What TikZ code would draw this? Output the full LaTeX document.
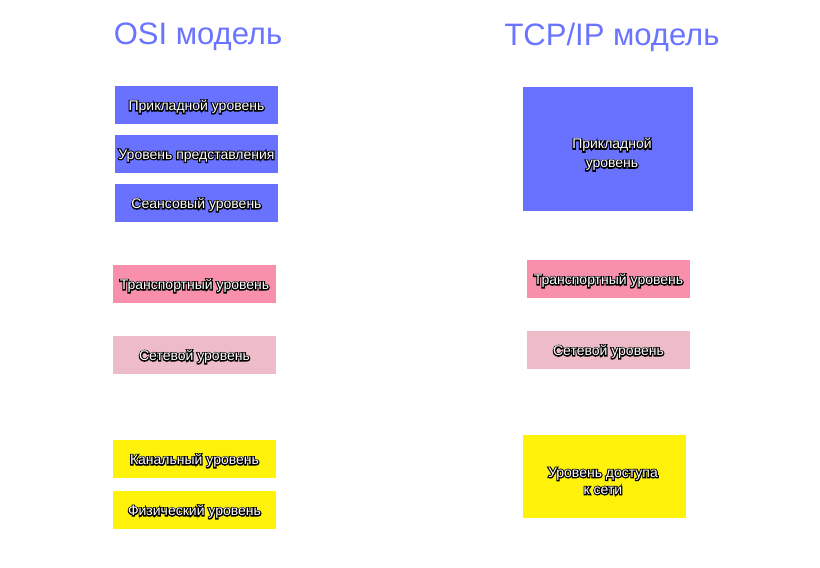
\documentclass[tikz,border=0pt]{standalone}
\usepackage{fontspec}
\setmainfont{Liberation Sans}
\definecolor{osiblue}{HTML}{6872FF}
\definecolor{titleblue}{HTML}{6A74FF}
\definecolor{transpink}{HTML}{F890AB}
\definecolor{netpink}{HTML}{EEBBC9}
\definecolor{linkyellow}{HTML}{FFF20A}
\tikzset{
  layerbox/.style={rectangle, inner sep=0pt, draw=none, text=white, align=center,
    font=\fontsize{14}{17}\selectfont},
  titletext/.style={text=titleblue, font=\fontsize{31}{36}\selectfont, inner sep=0pt}
}
% outlined text: a stroked black copy under the white filled text
\newcommand\ol[1]{\leavevmode\rlap{\special{pdf:literal direct 1 Tr 2.2 w 0 G}#1\special{pdf:literal direct 0 Tr 1 w}}#1}
\newcommand\lbl[1]{\raisebox{-1.8pt}[\height][\depth]{\ol{#1}}}
\begin{document}
\begin{tikzpicture}[x=1pt,y=-1pt]
\useasboundingbox[fill=white] (0,0) rectangle (820,568);
% titles
\node[titletext] (osititle) at (198,37) {OSI модель};
\node[titletext] (tcptitle) at (612,37) {TCP/IP модель};
% OSI column
\node[layerbox, fill=osiblue, minimum width=163pt, minimum height=38pt] (app) at (196.5,105) {\lbl{Прикладной уровень}};
\node[layerbox, fill=osiblue, minimum width=163pt, minimum height=38pt] (pres) at (196.5,154) {\lbl{Уровень представления}};
\node[layerbox, fill=osiblue, minimum width=163pt, minimum height=38pt] (sess) at (196.5,203) {\lbl{Сеансовый уровень}};
\node[layerbox, fill=transpink, minimum width=163pt, minimum height=38pt] (trans) at (194.5,284) {\lbl{Транспортный уровень}};
\node[layerbox, fill=netpink, minimum width=163pt, minimum height=38pt] (net) at (194.5,355) {\lbl{Сетевой уровень}};
\node[layerbox, fill=linkyellow, minimum width=163pt, minimum height=38pt] (link) at (194.5,459) {\lbl{Канальный уровень}};
\node[layerbox, fill=linkyellow, minimum width=163pt, minimum height=38pt] (phys) at (194.5,510) {\lbl{Физический уровень}};
% TCP/IP column
\node[layerbox, fill=osiblue, minimum width=170pt, minimum height=124pt] (tapp) at (608,149) {};
\node[layerbox, font=\fontsize{14}{19}\selectfont] (tapptext) at (612,154.5) {\ol{Прикладной}\\\ol{уровень}};
\node[layerbox, fill=transpink, minimum width=163pt, minimum height=38pt] (ttrans) at (608.5,279) {\lbl{Транспортный уровень}};
\node[layerbox, fill=netpink, minimum width=163pt, minimum height=38pt] (tnet) at (608.5,350) {\lbl{Сетевой уровень}};
\node[layerbox, fill=linkyellow, minimum width=163pt, minimum height=83pt] (tlink) at (604.5,476.5) {};
\node[layerbox] (tlinktext) at (603,481) {\ol{Уровень доступа}\\\ol{к сети}};
\end{tikzpicture}
\end{document}
